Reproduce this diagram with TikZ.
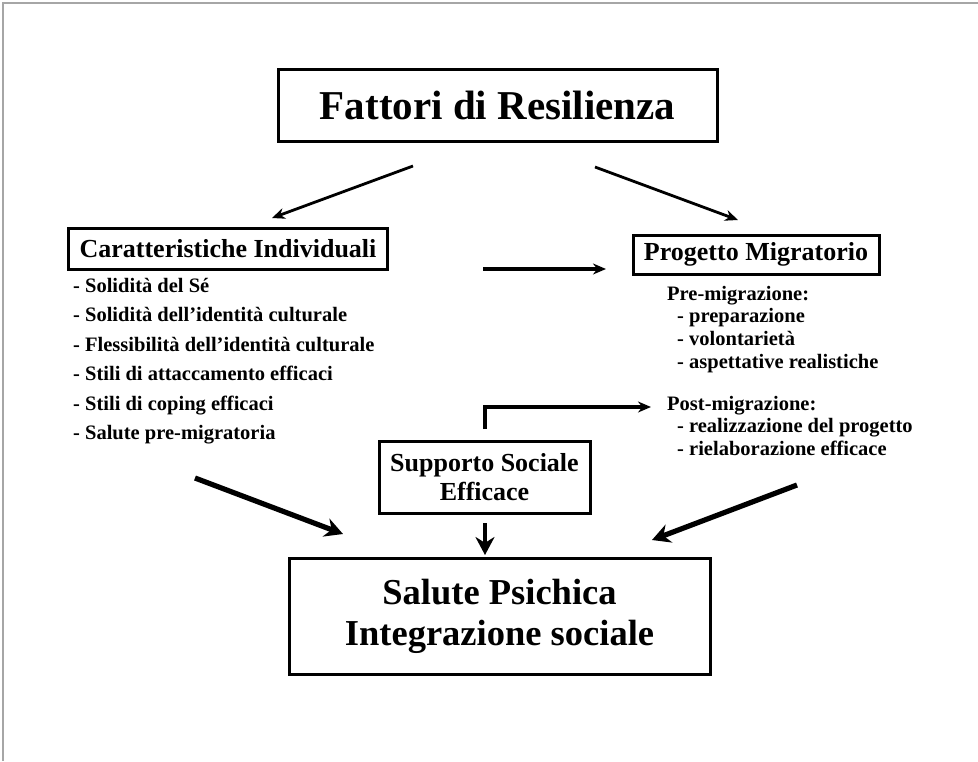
\documentclass[tikz,border=0pt]{standalone}
\usepackage{fontspec}
\setmainfont{Liberation Serif}
\usetikzlibrary{arrows.meta}
\tikzset{
>=Stealth,
scatola/.style={draw,line width=3pt,inner sep=0pt,align=center,font=\bfseries},
voce/.style={anchor=west,inner sep=0pt,text height=0.7em,text depth=0.22em,
  font=\fontsize{20.5}{24}\selectfont\bfseries},
freccia/.style={->,line width=2.8pt,>={Stealth[length=13pt,width=11pt]}},
frecciona/.style={->,line width=5.2pt,>={Stealth[length=18pt,width=19pt]}}}

\begin{document}
\begin{tikzpicture}[x=1pt,y=-1pt]
\useasboundingbox (0,0) rectangle (978,761);
\draw[gray!70,line width=2pt] (3,761) -- (3,3) -- (978,3);

\node[scatola,minimum width=439,minimum height=72,
  font=\fontsize{41}{49}\selectfont\bfseries] (fattori) at (497.5,105) {Fattori di Resilienza};
\node[scatola,minimum width=319,minimum height=41,
  font=\fontsize{26}{30}\selectfont\bfseries] (caratt) at (228,248.5) {Caratteristiche Individuali};
\node[scatola,minimum width=246,minimum height=39,
  font=\fontsize{26}{30}\selectfont\bfseries] (progetto) at (756,254.5) {Progetto Migratorio};
\node[scatola,minimum width=211,minimum height=72,
  font=\fontsize{26}{29}\selectfont\bfseries] (supporto) at (484.5,477) {Supporto Sociale\\Efficace};
\node[scatola,minimum width=421,minimum height=116,
  font=\fontsize{36.5}{41}\selectfont\bfseries] (salute) at (499.5,616) {Salute Psichica\\Integrazione sociale};

% caratteristiche individuali
\foreach \t [count=\i] in {- Solidità del Sé,- Solidità dell’identità culturale,
  - Flessibilità dell’identità culturale,- Stili di attaccamento efficaci,
  - Stili di coping efficaci,- Salute pre-migratoria}
  \node[voce] (ci\i) at (73,{290+29.4*(\i-1)}) {\t};

% progetto migratorio
\node[voce] (pre) at (667,298) {Pre-migrazione:};
\node[voce] (pre1) at (677,320) {- preparazione};
\node[voce] (pre2) at (677,343) {- volontarietà};
\node[voce] (pre3) at (677,366) {- aspettative realistiche};
\node[voce] (post) at (667,408) {Post-migrazione:};
\node[voce] (post1) at (677,430) {- realizzazione del progetto};
\node[voce] (post2) at (677,453) {- rielaborazione efficace};

\coordinate (f1) at (413,166);
\coordinate (f2) at (272,218);
\coordinate (f3) at (595,167);
\coordinate (f4) at (738,220);
\coordinate (h1) at (483,269);
\coordinate (h2) at (606,269);
\coordinate (s1) at (485,429);
\coordinate (s2) at (651,407);
\coordinate (s3) at (485,523);
\coordinate (s4) at (485,555);
\coordinate (l1) at (195,478);
\coordinate (l2) at (343,534);
\coordinate (r1) at (797,485);
\coordinate (r2) at (652,540);

\draw[freccia] (f1) -- (f2);
\draw[freccia] (f3) -- (f4);
\draw[freccia,line width=3.2pt] (h1) -- (h2);
\draw[freccia,line width=3.2pt] (s1) |- (s2);
\draw[frecciona,line width=4.4pt] (s3) -- (s4);
\draw[frecciona] (l1) -- (l2);
\draw[frecciona] (r1) -- (r2);
\end{tikzpicture}
\end{document}
